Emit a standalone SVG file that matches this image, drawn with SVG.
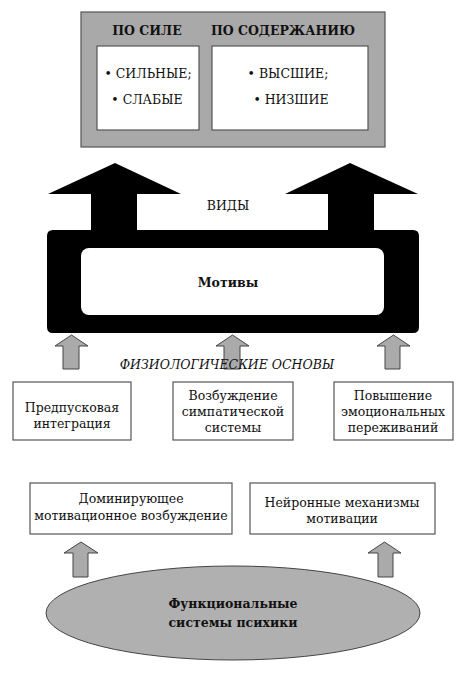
<svg xmlns="http://www.w3.org/2000/svg" width="466" height="673" viewBox="0 0 466 673">
<style>
text{font-family:'DejaVu Serif','Liberation Serif',serif;fill:#111;text-anchor:middle}
.t{font-size:12.5px}
.b{font-weight:bold}
.box{fill:#fff;stroke:#555;stroke-width:1.2}
.garr{fill:#aaa;stroke:#444;stroke-width:1}
</style>
<rect width="466" height="673" fill="#fff"/>
<g id="types">
<rect x="81" y="12" width="304" height="135" fill="#a9a9a9" stroke="#555" stroke-width="1.2"/>
<text class="t b" x="147" y="35" font-size="11.5px">ПО СИЛЕ</text>
<text class="t b" x="283" y="35" font-size="11.5px">ПО СОДЕРЖАНИЮ</text>
<rect class="box" x="97" y="46" width="102" height="84"/>
<rect class="box" x="212" y="46" width="156" height="84"/>
<text class="t" x="148" y="78">• СИЛЬНЫЕ;</text>
<text class="t" x="147" y="104">• СЛАБЫЕ</text>
<text class="t" x="288" y="78">• ВЫСШИЕ;</text>
<text class="t" x="291" y="104">• НИЗШИЕ</text>
</g>
<g id="motives">
<path d="M53,230 H91 V194 H48 L115,163 L181,194 H137 V230 H328 V194 H285 L350,163 L418,194 H374 V230 H413 Q419,230 419,236 V327 Q419,333 413,333 H53 Q47,333 47,327 V236 Q47,230 53,230 Z" fill="#000"/>
<rect x="81" y="248" width="303" height="67" rx="8" fill="#fff"/>
<text class="t" x="228" y="210">ВИДЫ</text>
<text class="t b" x="228" y="287">Мотивы</text>
</g>
<g id="connectors">
<path class="garr" d="M63,369 V346 H55 L71.5,335 L88,346 H79 V369 Z"/>
<path class="garr" d="M224,369 V346 H216 L232.5,335 L249,346 H240 V369 Z"/>
<path class="garr" d="M385,369 V346 H377 L393.5,335 L410,346 H400 V369 Z"/>
<path class="garr" d="M73,577 V553 H64 L81,542 L98,553 H88 V577 Z"/>
<path class="garr" d="M378,577 V553 H368 L384.5,542 L401,553 H393 V577 Z"/>
</g>
<g id="physio-label">
<text class="t" x="227" y="369" font-style="italic" font-size="12.3px">ФИЗИОЛОГИЧЕСКИЕ ОСНОВЫ</text>
</g>
<g id="prestart">
<rect class="box" x="13" y="382" width="118" height="58"/>
<text class="t" x="72" y="412">Предпусковая</text>
<text class="t" x="72" y="428">интеграция</text>
</g>
<g id="sympathetic">
<rect class="box" x="173" y="382" width="120" height="58"/>
<text class="t" x="233" y="400">Возбуждение</text>
<text class="t" x="233" y="416">симпатической</text>
<text class="t" x="233" y="432">системы</text>
</g>
<g id="emotional">
<rect class="box" x="334" y="382" width="119" height="58"/>
<text class="t" x="393" y="400">Повышение</text>
<text class="t" x="393" y="416">эмоциональных</text>
<text class="t" x="393" y="432">переживаний</text>
</g>
<g id="dominant">
<rect class="box" x="30" y="483" width="202" height="51"/>
<text class="t" x="131" y="503">Доминирующее</text>
<text class="t" x="131" y="520">мотивационное возбуждение</text>
</g>
<g id="neural">
<rect class="box" x="250" y="483" width="185" height="51"/>
<text class="t" x="342" y="507">Нейронные механизмы</text>
<text class="t" x="342" y="523">мотивации</text>
</g>
<g id="functional">
<ellipse cx="233" cy="613" rx="187" ry="47" fill="#b0b0b0" stroke="#444" stroke-width="1"/>
<text class="t b" x="233" y="608" font-size="12.3px">Функциональные</text>
<text class="t b" x="233" y="627" font-size="12.3px">системы психики</text>
</g>
</svg>
